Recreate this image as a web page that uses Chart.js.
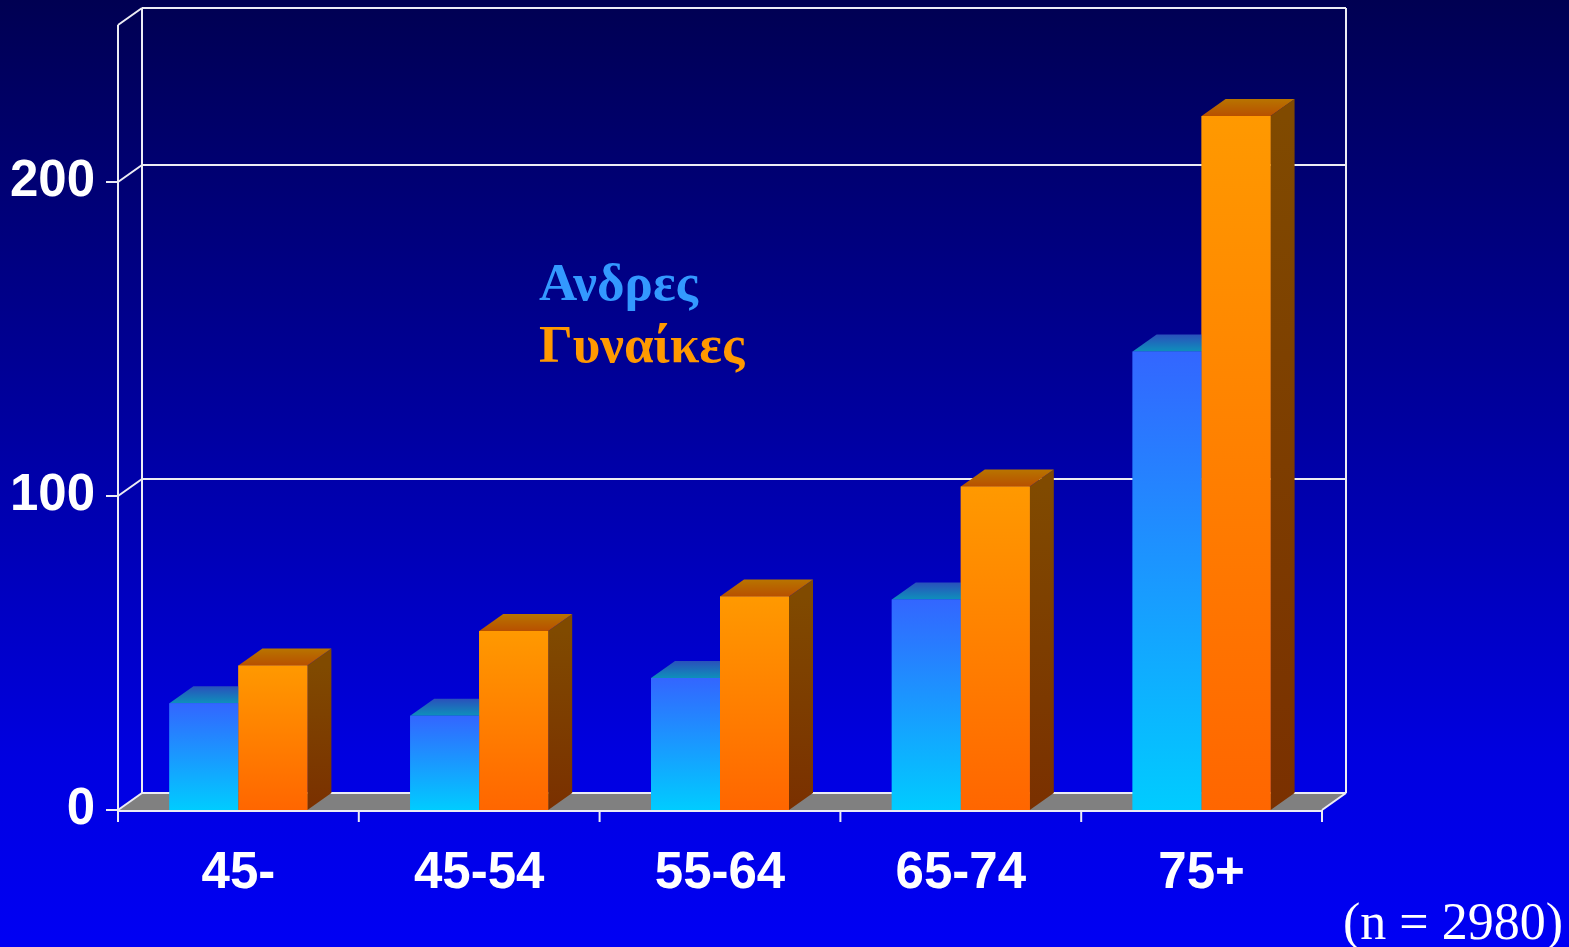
<!DOCTYPE html>
<html>
<head>
<meta charset="utf-8">
<title>Ανδρες / Γυναίκες ανά ηλικία</title>
<script src="https://cdn.jsdelivr.net/npm/chart.js@4/dist/chart.umd.min.js"></script>
<style>
    html, body { margin: 0; padding: 0; background: #0000c0; }
    #wrap { position: relative; width: 1569px; height: 947px; }
</style>
</head>
<body>
<div id="wrap"><canvas id="ageChart" width="1569" height="947"></canvas></div>
<script>
const categories = ['45-', '45-54', '55-64', '65-74', '75+'];
const menValues = [34, 30, 42, 67, 146];
const womenValues = [46, 57, 68, 103, 221];
const seriesNames = ['Ανδρες', 'Γυναίκες'];
const yTickValues = [0, 100, 200];
const yMax = 250;
const sampleNote = '(n = 2980)';

// depth of the fake 3D box, in pixels
const DX = 24;
const DY = 17;
const LINE = '#ececf4';

const frontColors = [['#3366ff', '#00ccff'], ['#ff9900', '#ff6600']];
const topColors = [['#2a50bb', '#0e90bb'], ['#b87400', '#b85000']];
const sideColors = [['#1a3a99', '#10307a'], ['#804a00', '#7a3000']];
const legendColors = ['#3399ff', '#ff9900'];

function vGradient(ctx, y0, y1, c0, c1) {
    const g = ctx.createLinearGradient(0, y0, 0, y1);
    g.addColorStop(0, c0);
    g.addColorStop(1, c1);
    return g;
}

function frontFill(index) {
    return context => {
        const chart = context.chart;
        if(!chart.chartArea || context.raw === undefined) return frontColors[index][0];
        const y = chart.scales.y;
        return vGradient(chart.ctx, y.getPixelForValue(context.raw), y.getPixelForValue(0),
            frontColors[index][0], frontColors[index][1]);
    };
}

function line(ctx, x0, y0, x1, y1) {
    ctx.beginPath();
    ctx.moveTo(x0, y0);
    ctx.lineTo(x1, y1);
    ctx.stroke();
}

function poly(ctx, pts, fill) {
    ctx.beginPath();
    ctx.moveTo(pts[0][0], pts[0][1]);
    pts.slice(1).forEach(p => ctx.lineTo(p[0], p[1]));
    ctx.closePath();
    ctx.fillStyle = fill;
    ctx.fill();
}

const box3d = {
    id: 'box3d',
    beforeDraw(chart) {
        const ctx = chart.ctx;
        const bg = ctx.createLinearGradient(0, 0, 0, chart.height);
        bg.addColorStop(0, '#000052');
        bg.addColorStop(0.45, '#0000a0');
        bg.addColorStop(0.8, '#0000e0');
        bg.addColorStop(1, '#0000f4');
        ctx.save();
        ctx.fillStyle = bg;
        ctx.fillRect(0, 0, chart.width, chart.height);
        ctx.restore();
    },
    beforeDatasetsDraw(chart) {
        const ctx = chart.ctx;
        const {left, right, top, bottom} = chart.chartArea;
        const y = chart.scales.y;
        const x = chart.scales.x;
        ctx.save();

        // floor
        poly(ctx, [[left, bottom], [left + DX, bottom - DY], [right + DX, bottom - DY], [right, bottom]], '#808080');

        ctx.strokeStyle = LINE;
        ctx.lineWidth = 2;

        // back wall and its gridlines
        line(ctx, left + DX, top - DY, right + DX, top - DY);
        line(ctx, left + DX, top - DY, left + DX, bottom - DY);
        line(ctx, right + DX, top - DY, right + DX, bottom - DY);
        yTickValues.forEach(v => {
            const py = y.getPixelForValue(v);
            line(ctx, left + DX, py - DY, right + DX, py - DY);
            line(ctx, left, py, left + DX, py - DY);
            line(ctx, left - 12, py, left, py);
        });

        // side wall
        line(ctx, left, top, left + DX, top - DY);
        line(ctx, left, top, left, bottom + 12);
        line(ctx, right, bottom, right + DX, bottom - DY);

        // category ticks under the front edge
        const step = x.width / categories.length;
        for(let i = 0; i <= categories.length; i++) {
            const px = x.left + i * step;
            line(ctx, px, bottom, px, bottom + 12);
        }
        ctx.restore();
    },
    afterDatasetsDraw(chart) {
        const ctx = chart.ctx;
        const {left, right, bottom} = chart.chartArea;
        ctx.save();

        // blocks go left to right so each orange front hides the blue one's side
        chart.data.datasets.forEach((ds, i) => {
            chart.getDatasetMeta(i).data.forEach(bar => {
                const l = bar.x - bar.width / 2;
                const r = bar.x + bar.width / 2;
                const t = bar.y;
                const b = bar.base;
                poly(ctx, [[r, t], [r + DX, t - DY], [r + DX, b - DY], [r, b]],
                    vGradient(ctx, t, b, sideColors[i][0], sideColors[i][1]));
                poly(ctx, [[l, t], [l + DX, t - DY], [r + DX, t - DY], [r, t]],
                    vGradient(ctx, t - DY, t, topColors[i][0], topColors[i][1]));
                bar.draw(ctx, chart.chartArea);
            });
        });

        ctx.strokeStyle = LINE;
        ctx.lineWidth = 2;
        line(ctx, left, bottom + 1, right, bottom + 1);

        // series names
        ctx.font = 'bold 53px "Liberation Serif", "DejaVu Serif", serif';
        ctx.textBaseline = 'alphabetic';
        seriesNames.forEach((name, i) => {
            ctx.fillStyle = legendColors[i];
            ctx.fillText(name, 539, 300 + i * 62);
        });

        // sample size
        ctx.font = '52px "Liberation Serif", "DejaVu Serif", serif';
        ctx.fillStyle = '#ffffff';
        ctx.textAlign = 'right';
        ctx.fillText(sampleNote, 1563, 939);
        ctx.restore();
    }
};

new Chart(document.getElementById('ageChart'), {
    type: 'bar',
    data: {
        labels: categories,
        datasets: [
            {label: seriesNames[0], data: menValues, backgroundColor: frontFill(0), borderWidth: 0},
            {label: seriesNames[1], data: womenValues, backgroundColor: frontFill(1), borderWidth: 0}
        ]
    },
    options: {
        responsive: false,
        animation: false,
        events: [],
        layout: {padding: {top: 25, right: 247, left: 0, bottom: 0}},
        datasets: {bar: {categoryPercentage: 0.573, barPercentage: 1}},
        plugins: {legend: {display: false}, tooltip: {enabled: false}},
        scales: {
            x: {
                grid: {display: false, drawTicks: false},
                border: {display: false},
                ticks: {
                    color: '#ffffff',
                    font: {family: '"Liberation Sans", Arial, sans-serif', size: 51, weight: 'bold'},
                    padding: 33,
                    maxRotation: 0,
                    autoSkip: false
                },
                afterFit: scale => {
                    scale.height = 137;
                    scale.paddingLeft = 0;
                    scale.paddingRight = 0;
                }
            },
            y: {
                min: 0,
                max: yMax,
                grid: {display: false, drawTicks: false},
                border: {display: false},
                afterBuildTicks: scale => { scale.ticks = yTickValues.map(v => ({value: v})); },
                ticks: {
                    color: '#ffffff',
                    font: {family: '"Liberation Sans", Arial, sans-serif', size: 51, weight: 'bold'},
                    padding: 23
                },
                afterFit: scale => {
                    scale.width = 118;
                    scale.paddingTop = 0;
                    scale.paddingBottom = 0;
                }
            }
        }
    },
    plugins: [box3d]
});
</script>
</body>
</html>
